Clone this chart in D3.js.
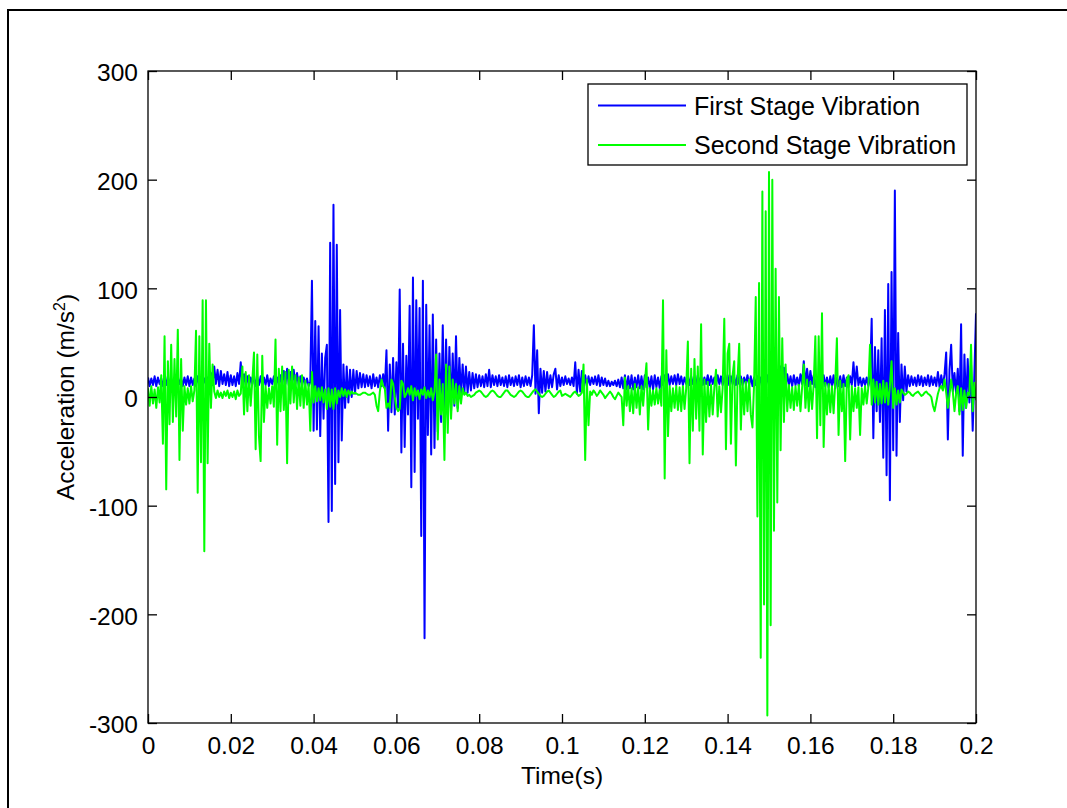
<!DOCTYPE html>
<html>
<head>
<meta charset="utf-8">
<script src="https://cdn.jsdelivr.net/npm/d3@7"></script>
<style>
  body { margin: 0; background: #fff; }
  svg { display: block; }
  text { font-family: "Liberation Sans", Arial, sans-serif; fill: #000; }
</style>
</head>
<body>
<svg id="chart" width="1067" height="808"></svg>
<script>
// Sampling interval of both acceleration records (s)
const timeStep = 0.0004;

// First stage acceleration (m/s^2), one value per time step
const firstStage = [
  18, 10, 17, 11, 19, 10, 18, 12, 17, 10,
  18, 11, 19, 10, 17, 11, 18, 10, 19, 12,
  17, 10, 18, 11, 19, 10, 18, 11, 17, 10,
  19, 11, 18, 10, 17, 12, 18, 10, 22, 11,
  28, 12, 25, 10, 24, 12, 21, 11, 23, 10,
  20, 11, 19, 10, 22, 12, 32, 9, 21, 11,
  19, 10, 18, 12, 20, 10, 18, 11, 19, 10,
  18, 11, 20, 10, 17, 12, 19, 10, 18, 11,
  20, 10, 24, 12, 26, 11, 23, 10, 25, 12,
  22, 11, 19, 10, 18, 12, 17, 10, 14, 107,
  -31, 70, -30, 65, -36, 40, -20, 36, 48, -115,
  142, -105, 177, -80, 140, -60, 80, -40, 30, -10,
  28, -5, 25, 0, 25, 3, 24, 8, 22, 9,
  21, 9, 20, 10, 19, 8, 21, 10, 18, 9,
  20, 10, 21, 8, 43, -31, 30, -14, 36, -16,
  32, -10, 99, -51, 49, -46, 38, -16, 84, -83,
  110, -69, 89, -20, 82, -128, 107, -222, 85, -35,
  66, -53, 76, -47, 53, -32, 40, -23, 66, -26,
  53, -16, 46, -13, 40, -8, 56, -10, 36, 3,
  30, 3, 28, 4, 23, 6, 22, 8, 21, 9,
  20, 10, 19, 9, 21, 10, 25, 9, 20, 11,
  19, 10, 20, 11, 18, 10, 19, 9, 20, 11,
  18, 10, 19, 11, 20, 9, 18, 10, 19, 11,
  18, 10, 20, 66, 3, 43, -15, 26, 4, 24,
  5, 23, 8, 20, 9, 21, 26, 7, 20, 10,
  18, 11, 19, 12, 17, 11, 18, 10, 32, 3,
  25, 5, 24, 8, 20, 10, 19, 11, 18, 12,
  19, 11, 20, 10, 18, 11, 17, 10, 15, 10,
  14, 11, 15, 10, 16, 9, 18, 8, 20, 7,
  19, 8, 20, 7, 18, 9, 20, 8, 19, 7,
  20, 9, 18, 8, 19, 7, 20, 9, 18, 8,
  19, 11, 20, 12, 21, 11, 19, 12, 20, 11,
  21, 12, 19, 11, 18, 12, 20, 11, 19, 12,
  18, 11, 20, 12, 19, 11, 18, 12, 20, 11,
  19, 12, 18, 11, 20, 12, 19, 11, 18, 12,
  20, 11, 19, 12, 18, 11, 20, 12, 19, 11,
  18, 12, 20, 11, 19, 10, 18, 11, 19, 10,
  18, 11, 19, 10, 20, 11, 18, 10, 19, 11,
  20, 10, 28, 12, 27, 10, 21, 11, 19, 10,
  20, 11, 18, 10, 21, 12, 33, 11, 26, 10,
  24, 12, 20, 9, 18, 10, 19, 8, 20, 10,
  18, 9, 19, 10, 20, 8, 18, 10, 19, 9,
  20, 10, 18, 9, 19, 11, 32, 10, 28, 11,
  18, 10, 17, 11, 18, 10, 17, 72, -38, 46,
  -13, 43, -23, 54, -56, 80, -72, 104, -95, 115,
  -49, 190, -54, 59, -23, 30, -3, 28, 5, 20,
  10, 19, 11, 18, 10, 20, 11, 19, 10, 18,
  11, 20, 10, 19, 11, 18, 10, 23, 9, 20,
  10, 21, 41, -39, 25, 48, 5, 22, 3, 26,
  -13, 67, -54, 39, -10, 35, -5, 30, -31, 20,
  77
];

// Second stage acceleration (m/s^2), one value per time step
const secondStage = [
  8, -8, 10, -6, 7, -10, 9, -5, 20, -43,
  56, -85, 33, -25, 48, -23, 35, -18, 62, -58,
  35, -31, 10, -7, 8, -6, 10, -4, 6, 61,
  -88, 56, -60, 89, -142, 89, -61, 49, -10, 30,
  5, -1, 6, 0, 4, -1, 5, 1, 6, -1,
  4, 0, 5, -2, 6, 1, 3, 28, -16, 23,
  -13, 20, -8, 15, 41, -48, 39, -36, -59, 38,
  -23, 10, -10, 8, -6, 10, -9, 53, -44, 26,
  -13, 28, -12, 23, -61, 25, -6, 28, -5, 20,
  -11, 18, -8, 20, -10, 15, -7, 12, -31, 23,
  -5, 10, -4, 8, -3, 9, -5, 7, -11, 8,
  -9, 7, -11, 8, -6, 6, 0, 8, 1, 7,
  0, 6, 2, 5, 3, 4, 3, 2, 2, 3,
  4, 4, 3, 2, 2, 3, 4, 2, -8, -13,
  5, 16, 10, 8, -10, -6, -10, 16, 12, 0,
  -10, -13, -11, 15, 12, 0, 3, 8, 2, 10,
  -3, 8, 1, 6, -2, 7, 2, 9, -1, 6,
  0, 8, -3, 5, 39, -39, 16, -16, 12, -58,
  30, -33, 28, -20, 16, -6, 12, -13, 10, -6,
  8, 2, 4, 1, 2, 0, 1, 2, 4, 5,
  6, 5, 3, 1, 0, 1, 3, 5, 6, 5,
  3, 1, 0, 0, 2, 4, 6, 6, 4, 2,
  1, 0, 1, 3, 5, 6, 5, 3, 1, 0,
  0, 2, 4, 6, 7, 5, 3, 1, 0, 1,
  3, 5, 6, 4, 2, 0, 1, 3, 5, 6,
  1, 2, 3, 2, 1, 0, 2, 4, 5, 3,
  1, 2, 4, 30, -58, 16, -26, 5, 2, 6,
  4, 1, 3, 6, 4, 2, -1, 1, 3, 5,
  3, 0, -2, 1, 4, 2, 0, -26, 18, -8,
  10, -13, 8, -15, 12, -10, 9, -16, 10, -8,
  13, 31, -30, 8, -8, 6, -7, 8, -6, 7,
  -8, 89, -75, 43, -36, 10, -13, 8, -10, 10,
  -12, 9, -13, 10, -11, 8, 51, -61, 26, -31,
  35, -20, 28, -31, 67, -53, 16, -23, 14, -18,
  11, -16, 9, 25, -18, 10, -14, 8, 72, -48,
  40, 49, -43, 20, 33, -63, 16, 49, -30, 16,
  -16, 14, -13, 16, -16, -28, 12, 92, -110, 105,
  -240, 189, -191, 171, -293, 207, -210, 200, -123, 118,
  -97, 92, -49, 54, -23, 30, -13, 11, -10, 9,
  -12, 10, -8, 11, -13, 9, 30, -10, 16, -13,
  14, -11, 12, 56, -38, 56, -26, 77, -46, 13,
  -16, 12, -14, 10, -15, 13, 54, -35, 15, -13,
  12, -59, 16, 20, -39, 10, -13, 8, -10, 9,
  -35, 8, -7, 10, -6, 9, 48, -7, 16, -5,
  14, -7, 12, -6, 15, -5, 13, -7, 10, 33,
  -10, 8, -7, 6, -5, 7, 4, 2, 3, 5,
  4, 2, 1, 3, 4, 5, 3, 1, 2, 4,
  5, 3, 2, 0, -8, -13, -5, 3, 8, 10,
  6, 16, 4, -10, 2, 16, 5, -13, 3, 10,
  -16, 8, -12, 6, -10, 4, 2, 48, -13, 13,
  -3
];

const seriesNames = ["First Stage Vibration", "Second Stage Vibration"];
const seriesColors = ["#0000ff", "#00ff00"];
const xTicks = [0, 0.02, 0.04, 0.06, 0.08, 0.1, 0.12, 0.14, 0.16, 0.18, 0.2];
const yTicks = [-300, -200, -100, 0, 100, 200, 300];

const W = 1067, H = 808;
const plot = { left: 148, top: 71, right: 976, bottom: 723 };
const fontSize = 24.5;
const legendFontSize = 25;

const svg = d3.select("#chart");
svg.append("rect").attr("width", W).attr("height", H).attr("fill", "#fff");

// figure frame (runs past the right and bottom edges of the page)
svg.append("rect")
  .attr("x", 8).attr("y", 10).attr("width", W + 20).attr("height", H + 20)
  .attr("fill", "none").attr("stroke", "#000").attr("stroke-width", 2);

const x = d3.scaleLinear().domain([0, 0.2]).range([plot.left, plot.right]);
const y = d3.scaleLinear().domain([-300, 300]).range([plot.bottom, plot.top]);

svg.append("defs").append("clipPath").attr("id", "plot-clip")
  .append("rect")
  .attr("x", plot.left).attr("y", plot.top)
  .attr("width", plot.right - plot.left).attr("height", plot.bottom - plot.top);

const line = d3.line()
  .x((d, i) => x(i * timeStep))
  .y(d => y(d));

const traces = svg.append("g").attr("clip-path", "url(#plot-clip)");
[firstStage, secondStage].forEach((values, k) => {
  traces.append("path")
    .datum(values)
    .attr("d", line)
    .attr("fill", "none")
    .attr("stroke", seriesColors[k])
    .attr("stroke-width", 2)
    .attr("stroke-linejoin", "round");
});

// axes with inward ticks on all four sides
const tickLen = 9;
const plain = d => String(d);
const styleAxis = g => {
  g.select(".domain").remove();
  g.selectAll(".tick line").attr("stroke", "#000").attr("stroke-width", 1.3);
  g.selectAll(".tick text").attr("font-size", fontSize).attr("font-family", "Liberation Sans, Arial, sans-serif").attr("fill", "#000");
};

svg.append("g")
  .attr("transform", `translate(0,${plot.bottom})`)
  .call(d3.axisBottom(x).tickValues(xTicks).tickSize(-tickLen).tickPadding(14).tickFormat(plain))
  .call(styleAxis);

svg.append("g")
  .attr("transform", `translate(0,${plot.top})`)
  .call(d3.axisTop(x).tickValues(xTicks).tickSize(-tickLen).tickFormat(""))
  .call(styleAxis);

svg.append("g")
  .attr("transform", `translate(${plot.left},0)`)
  .call(d3.axisLeft(y).tickValues(yTicks).tickSize(-tickLen).tickPadding(10).tickFormat(plain))
  .call(styleAxis)
  .call(g => g.selectAll(".tick text").attr("dy", "0.40em"));

svg.append("g")
  .attr("transform", `translate(${plot.right},0)`)
  .call(d3.axisRight(y).tickValues(yTicks).tickSize(-tickLen).tickFormat(""))
  .call(styleAxis);

// axes box
svg.append("rect")
  .attr("x", plot.left).attr("y", plot.top)
  .attr("width", plot.right - plot.left).attr("height", plot.bottom - plot.top)
  .attr("fill", "none").attr("stroke", "#000").attr("stroke-width", 1.3);

// axis titles
svg.append("text")
  .attr("x", (plot.left + plot.right) / 2).attr("y", 784)
  .attr("text-anchor", "middle").attr("font-size", fontSize)
  .text("Time(s)");

const yTitle = svg.append("text")
  .attr("transform", `translate(74,${(plot.top + plot.bottom) / 2}) rotate(-90)`)
  .attr("text-anchor", "middle").attr("font-size", fontSize);
yTitle.append("tspan").text("Acceleration (m/s");
yTitle.append("tspan").attr("font-size", 16).attr("dy", -9).text("2");
yTitle.append("tspan").attr("dy", 9).text(")");

// legend
const legend = svg.append("g");
legend.append("rect")
  .attr("x", 588).attr("y", 84).attr("width", 379).attr("height", 81)
  .attr("fill", "#fff").attr("stroke", "#000").attr("stroke-width", 1.3);
const legendRows = [105.5, 145];
seriesNames.forEach((name, k) => {
  legend.append("line")
    .attr("x1", 598).attr("x2", 686)
    .attr("y1", legendRows[k]).attr("y2", legendRows[k])
    .attr("stroke", seriesColors[k]).attr("stroke-width", 2);
  legend.append("text")
    .attr("x", 694).attr("y", legendRows[k]).attr("dy", "0.36em")
    .attr("font-size", legendFontSize)
    .text(name);
});
</script>
</body>
</html>
